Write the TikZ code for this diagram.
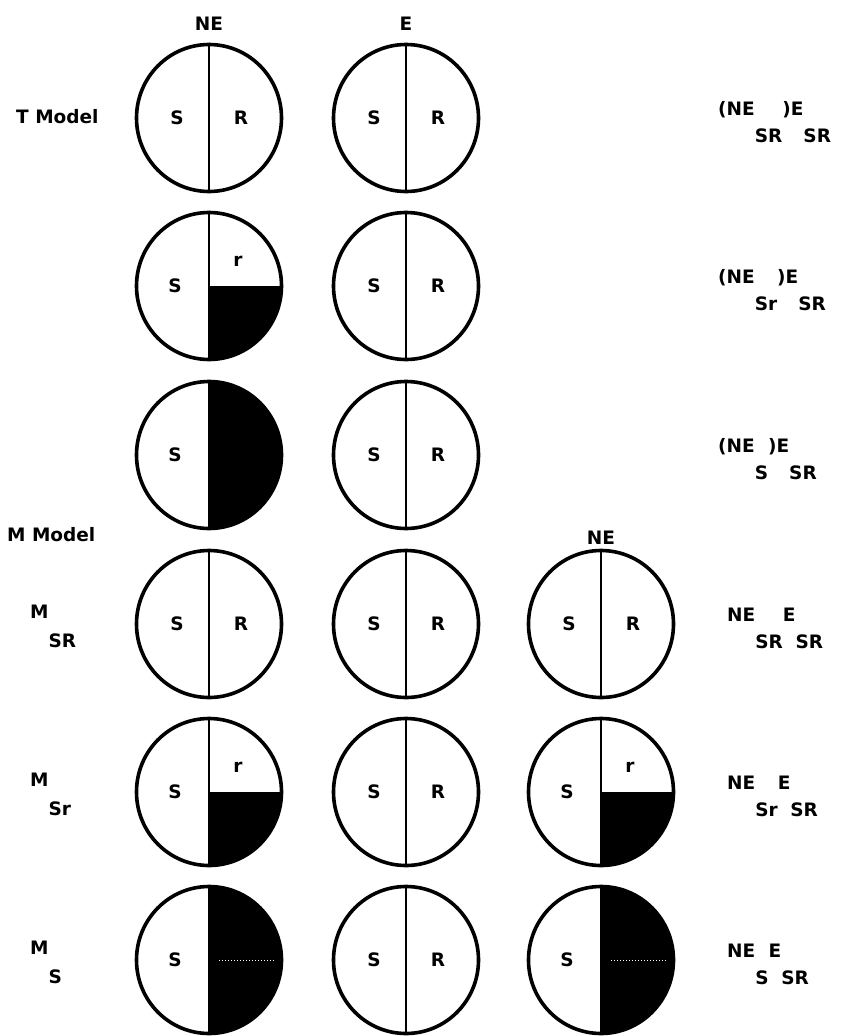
\documentclass[tikz,border=0pt]{standalone}
\usepackage{fontspec}
\setmainfont{DejaVu Sans}
\usetikzlibrary{shapes.geometric}
\newcommand\lowsub[2][27pt]{\raisebox{-#1}{#2}}

\begin{document}
\begin{tikzpicture}[x=1pt,y=-1pt,
    cell/.style={draw,ellipse,line width=3.6pt,minimum width=145pt,minimum height=147pt,inner sep=0pt},
    divider/.style={line width=1.8pt},
    lbl/.style={font=\fontsize{18.5}{22}\selectfont\bfseries,inner sep=0pt},
    dark/.style={fill=black}]
        \useasboundingbox (0,0) rectangle (844,1036);
        \def\xa{209} \def\xb{406} \def\xc{601}
        \def\ya{118} \def\yb{286} \def\yc{455}
        \def\yd{624} \def\ye{792} \def\yf{960}

        \begin{scope}
          \clip (\xa,\yb) ellipse [x radius=72.5, y radius=73.5];
          \fill[dark] (\xa,\yb) rectangle ++(80,80);
        \end{scope}
        \begin{scope}
          \clip (\xa,\yc) ellipse [x radius=72.5, y radius=73.5];
          \fill[dark] (\xa,\yc-80) rectangle ++(80,160);
        \end{scope}
        \begin{scope}
          \clip (\xa,\ye) ellipse [x radius=72.5, y radius=73.5];
          \fill[dark] (\xa,\ye) rectangle ++(80,80);
        \end{scope}
        \begin{scope}
          \clip (\xc,\ye) ellipse [x radius=72.5, y radius=73.5];
          \fill[dark] (\xc,\ye) rectangle ++(80,80);
        \end{scope}
        \begin{scope}
          \clip (\xa,\yf) ellipse [x radius=72.5, y radius=73.5];
          \fill[dark] (\xa,\yf-80) rectangle ++(80,160);
          \draw[white,dotted,line width=1pt] (\xa+10,\yf) -- (\xa+66,\yf);
        \end{scope}
        \begin{scope}
          \clip (\xc,\yf) ellipse [x radius=72.5, y radius=73.5];
          \fill[dark] (\xc,\yf-80) rectangle ++(80,160);
          \draw[white,dotted,line width=1pt] (\xc+10,\yf) -- (\xc+66,\yf);
        \end{scope}

        \node[lbl,anchor=base] (hne) at (\xa,30) {NE};
        \node[lbl,anchor=base] (he) at (\xb,30) {E};
        \node[lbl,anchor=base west] (tmodel) at (16,123) {T Model};
        \node[lbl,anchor=base west] (mmodel) at (7,541) {M Model};
        \node[lbl,anchor=base] (hne2) at (\xc,544) {NE};

        \node[cell] (tane) at (\xa,\ya) {};
        \draw[divider] (tane.north) -- (tane.south);
        \node[lbl,xshift=-32pt] (tane-s) at (tane.center) {S};
        \node[lbl,xshift=32pt] (tane-r) at (tane.center) {R};
        \node[cell] (tae) at (\xb,\ya) {};
        \draw[divider] (tae.north) -- (tae.south);
        \node[lbl,xshift=-32pt] (tae-s) at (tae.center) {S};
        \node[lbl,xshift=32pt] (tae-r) at (tae.center) {R};
        \node[lbl,anchor=base west] (talab) at (718,\ya-3) {(NE\lowsub{SR})E\lowsub{SR}};

        \node[cell] (tbne) at (\xa,\yb) {};
        \draw[divider] (tbne.north) -- (tbne.south);
        \node[lbl,xshift=-34pt] (tbne-s) at (tbne.center) {S};
        \node[lbl,xshift=29pt,yshift=25pt] (tbne-r) at (tbne.center) {r};
        \node[cell] (tbe) at (\xb,\yb) {};
        \draw[divider] (tbe.north) -- (tbe.south);
        \node[lbl,xshift=-32pt] (tbe-s) at (tbe.center) {S};
        \node[lbl,xshift=32pt] (tbe-r) at (tbe.center) {R};
        \node[lbl,anchor=base west] (tblab) at (718,\yb-3) {(NE\lowsub{Sr})E\lowsub{SR}};

        \node[cell] (tcne) at (\xa,\yc) {};
        \draw[divider] (tcne.north) -- (tcne.south);
        \node[lbl,xshift=-34pt] (tcne-s) at (tcne.center) {S};
        \node[cell] (tce) at (\xb,\yc) {};
        \draw[divider] (tce.north) -- (tce.south);
        \node[lbl,xshift=-32pt] (tce-s) at (tce.center) {S};
        \node[lbl,xshift=32pt] (tce-r) at (tce.center) {R};
        \node[lbl,anchor=base west] (tclab) at (718,\yc-3) {(NE\lowsub{S})E\lowsub{SR}};

        \node[lbl,anchor=base west] (malab) at (30,\yd-6) {M\lowsub[29pt]{SR}};
        \node[cell] (mane) at (\xa,\yd) {};
        \draw[divider] (mane.north) -- (mane.south);
        \node[lbl,xshift=-32pt] (mane-s) at (mane.center) {S};
        \node[lbl,xshift=32pt] (mane-r) at (mane.center) {R};
        \node[cell] (mae) at (\xb,\yd) {};
        \draw[divider] (mae.north) -- (mae.south);
        \node[lbl,xshift=-32pt] (mae-s) at (mae.center) {S};
        \node[lbl,xshift=32pt] (mae-r) at (mae.center) {R};
        \node[cell] (mane2) at (\xc,\yd) {};
        \draw[divider] (mane2.north) -- (mane2.south);
        \node[lbl,xshift=-32pt] (mane2-s) at (mane2.center) {S};
        \node[lbl,xshift=32pt] (mane2-r) at (mane2.center) {R};
        \node[lbl,anchor=base west] (marlab) at (727,\yd-3) {NE\lowsub{SR}E\lowsub{SR}};

        \node[lbl,anchor=base west] (mblab) at (30,\ye-6) {M\lowsub[29pt]{Sr}};
        \node[cell] (mbne) at (\xa,\ye) {};
        \draw[divider] (mbne.north) -- (mbne.south);
        \node[lbl,xshift=-34pt] (mbne-s) at (mbne.center) {S};
        \node[lbl,xshift=29pt,yshift=25pt] (mbne-r) at (mbne.center) {r};
        \node[cell] (mbe) at (\xb,\ye) {};
        \draw[divider] (mbe.north) -- (mbe.south);
        \node[lbl,xshift=-32pt] (mbe-s) at (mbe.center) {S};
        \node[lbl,xshift=32pt] (mbe-r) at (mbe.center) {R};
        \node[cell] (mbne2) at (\xc,\ye) {};
        \draw[divider] (mbne2.north) -- (mbne2.south);
        \node[lbl,xshift=-34pt] (mbne2-s) at (mbne2.center) {S};
        \node[lbl,xshift=29pt,yshift=25pt] (mbne2-r) at (mbne2.center) {r};
        \node[lbl,anchor=base west] (mbrlab) at (727,\ye-3) {NE\lowsub{Sr}E\lowsub{SR}};

        \node[lbl,anchor=base west] (mclab) at (30,\yf-6) {M\lowsub[29pt]{S}};
        \node[cell] (mcne) at (\xa,\yf) {};
        \draw[divider] (mcne.north) -- (mcne.south);
        \node[lbl,xshift=-34pt] (mcne-s) at (mcne.center) {S};
        \node[cell] (mce) at (\xb,\yf) {};
        \draw[divider] (mce.north) -- (mce.south);
        \node[lbl,xshift=-32pt] (mce-s) at (mce.center) {S};
        \node[lbl,xshift=32pt] (mce-r) at (mce.center) {R};
        \node[cell] (mcne2) at (\xc,\yf) {};
        \draw[divider] (mcne2.north) -- (mcne2.south);
        \node[lbl,xshift=-34pt] (mcne2-s) at (mcne2.center) {S};
        \node[lbl,anchor=base west] (mcrlab) at (727,\yf-3) {NE\lowsub{S}E\lowsub{SR}};
\end{tikzpicture}
\end{document}
